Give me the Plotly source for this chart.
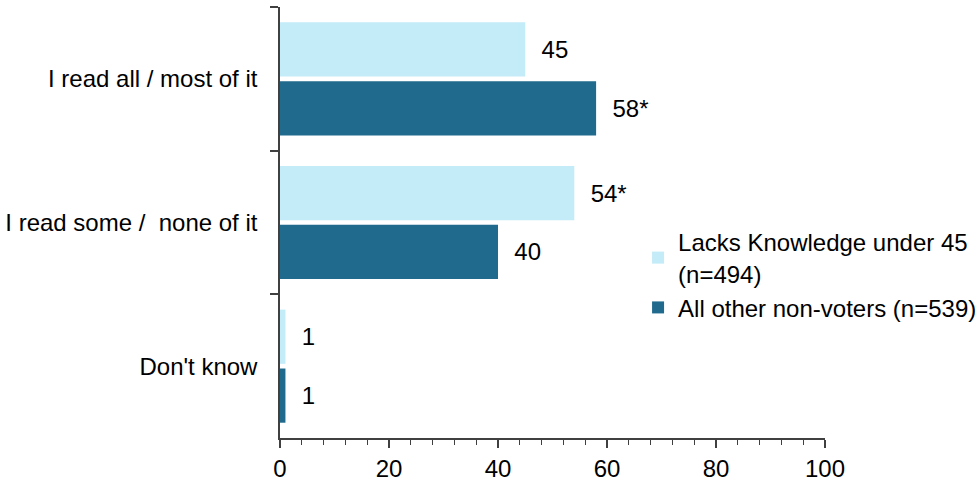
import plotly.graph_objects as go

categories = ["I read all / most of it", "I read some / \u00a0none of it", "Don't know"]
series_names = ["Lacks Knowledge under 45<br>(n=494)", "All other non-voters (n=539)"]
lacks_values = [45, 54, 1]
other_values = [58, 40, 1]
lacks_labels = ["45", "54*", "1"]
other_labels = ["58*", "40", "1"]
x_ticks = [0, 20, 40, 60, 80, 100]

light = "#C3EBF8"
dark = "#1F6A8D"
pad = "\u00a0\u00a0"
FS = 24

fig = go.Figure()
fig.add_trace(go.Bar(
    y=categories, x=lacks_values, orientation="h", name=series_names[0],
    marker=dict(color=light, line=dict(width=0)),
    text=[pad + t for t in lacks_labels], textposition="outside",
    textfont=dict(size=FS, color="black"), cliponaxis=False,
))
fig.add_trace(go.Bar(
    y=categories, x=other_values, orientation="h", name=series_names[1],
    marker=dict(color=dark, line=dict(width=0)),
    text=[pad + t for t in other_labels], textposition="outside",
    textfont=dict(size=FS, color="black"), cliponaxis=False,
))

fig.update_layout(
    width=977, height=484,
    margin=dict(l=280, r=152, t=7, b=46, autoexpand=False),
    plot_bgcolor="white", paper_bgcolor="white",
    font=dict(family="Liberation Sans, Arial, sans-serif", size=FS, color="black"),
    barmode="group", bargap=0.18, bargroupgap=0.08,
    showlegend=True,
    legend=dict(x=0.657, y=0.506, xanchor="left", yanchor="top",
                font=dict(size=FS), bgcolor="rgba(0,0,0,0)",
                traceorder="normal", tracegroupgap=13),
    uniformtext=dict(mode=False),
)
fig.update_xaxes(
    range=[0, 100], tickvals=x_ticks, ticks="outside", ticklen=8, tickwidth=1.5,
    tickcolor="#404040", showline=True, linecolor="#404040", linewidth=1.5,
    showgrid=False, zeroline=False, tickfont=dict(size=FS), automargin=False,
    minor=dict(dtick=4, ticks="outside", ticklen=5, tickwidth=1, tickcolor="#404040", showgrid=False),
)
fig.update_yaxes(
    autorange="reversed", tickson="boundaries", ticks="outside", ticklen=8, tickwidth=1.5,
    tickcolor="#404040", showline=True, linecolor="#404040", linewidth=1.5,
    showgrid=False, zeroline=False, tickfont=dict(size=FS), ticklabelstandoff=16,
    automargin=False,
)

# remove the browser's default 8px body margin so the figure fills the window
fig.write_html("out.html", config={"displayModeBar": False},
               post_script="document.body.style.margin='0';")
